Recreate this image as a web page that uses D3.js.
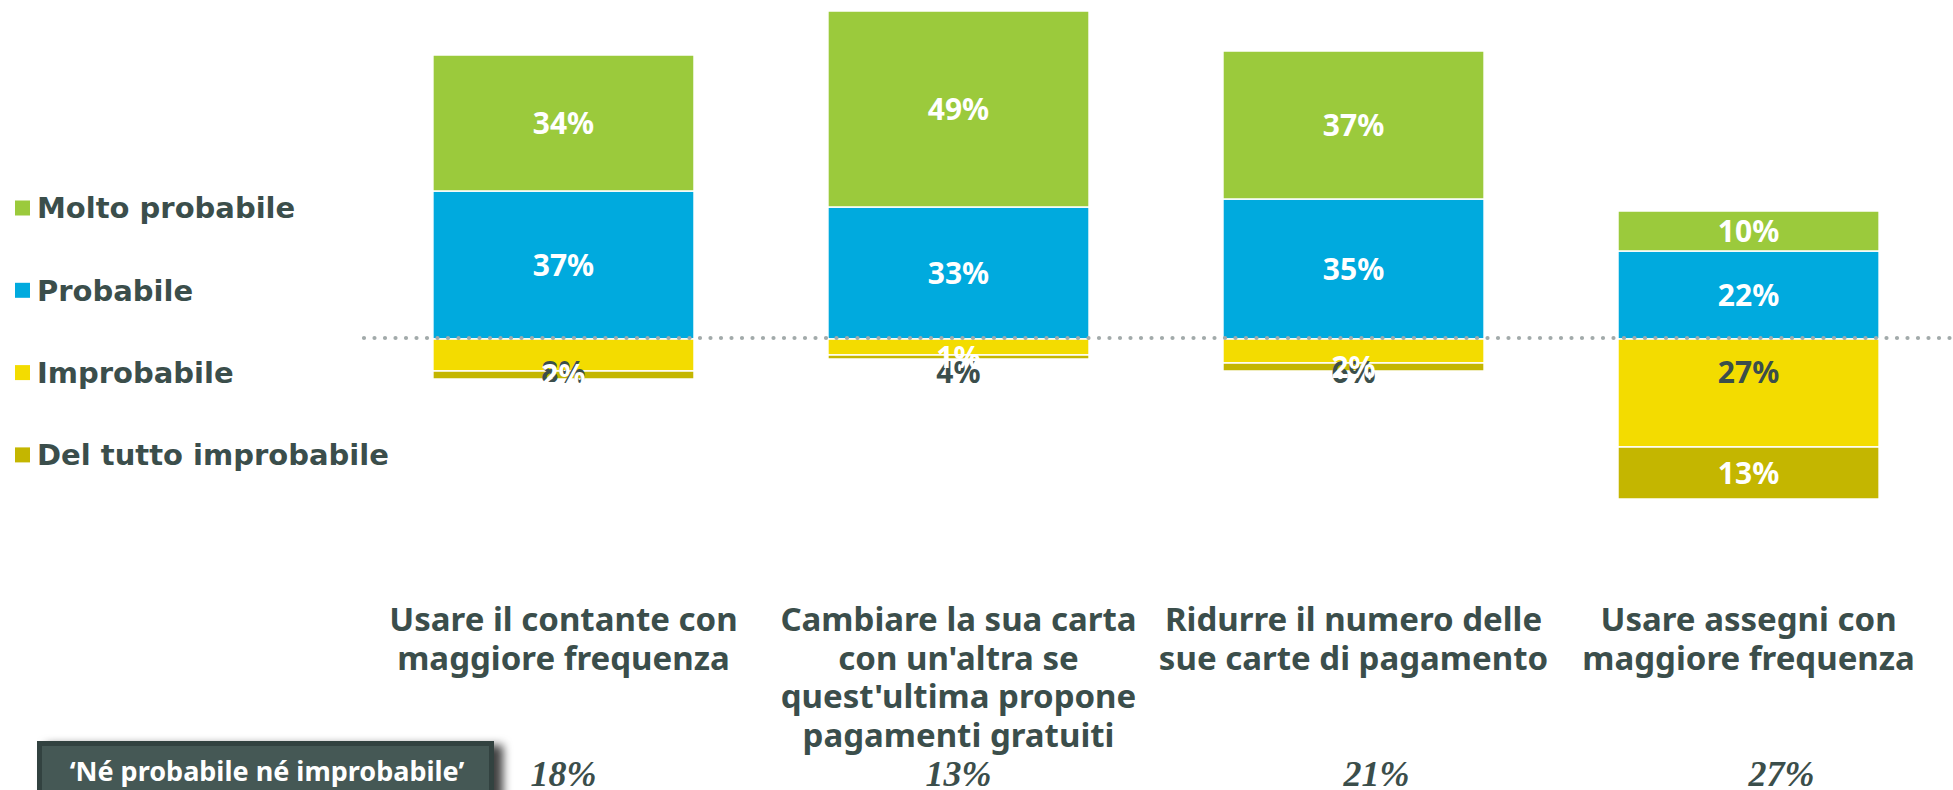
<!DOCTYPE html>
<html>
<head>
<meta charset="utf-8">
<script src="https://cdn.jsdelivr.net/npm/d3@7"></script>
<style>
	html, body { margin: 0; padding: 0; background: #fff; overflow: hidden; }
	svg { display: block; }
</style>
</head>
<body>
<script>
const categories = [
	['Usare il contante con', 'maggiore frequenza'],
	['Cambiare la sua carta', 'con un\'altra se', 'quest\'ultima propone', 'pagamenti gratuiti'],
	['Ridurre il numero delle', 'sue carte di pagamento'],
	['Usare assegni con', 'maggiore frequenza']
]
const seriesNames = ['Molto probabile', 'Probabile', 'Improbabile', 'Del tutto improbabile']
const moltoProbabile = [34, 49, 37, 10]
const probabile = [37, 33, 35, 22]
const improbabile = [8, 4, 6, 27]
const delTuttoImprobabile = [2, 1, 2, 13]
const neutralLabel = '\u2018Né probabile né improbabile\u2019'
const neutral = [18, 13, 21, 27]

const colors = ['#9bca3c', '#00aade', '#f3dc00', '#c4b600']
const dark = '#3b4e4b'

const width = 1953
const height = 790

const svg = d3.select('body').append('svg').attr('width', width).attr('height', height)

const defs = svg.append('defs')
const shadow = defs.append('filter').attr('id', 'shadow').attr('x', '-10%').attr('y', '-50%').attr('width', '130%').attr('height', '200%')
shadow.append('feDropShadow').attr('dx', 9).attr('dy', 4).attr('stdDeviation', 5).attr('flood-color', '#000').attr('flood-opacity', 0.75)

const x = d3.scaleBand().domain(d3.range(categories.length)).range([299, 2013]).padding(0.339)
// 4px per percentage point, zero line at y = 339
const y = d3.scaleLinear().domain([-40, 85]).range([499, -1])

const ids = d3.range(categories.length)
const stackUp = ids.map(i => {
	const a = moltoProbabile[i], b = probabile[i]
	return [
		{ s: 1, i, v: b, y0: 0, y1: b },
		{ s: 0, i, v: a, y0: b, y1: a + b }
	]
}).flat()
const stackDown = ids.map(i => {
	const c = improbabile[i], d = delTuttoImprobabile[i]
	return [
		{ s: 2, i, v: c, y0: 0, y1: -c },
		{ s: 3, i, v: d, y0: -c, y1: -c - d }
	]
}).flat()
const segs = stackUp.concat(stackDown)

const bars = svg.append('g').attr('class', 'bars')
bars.selectAll('rect')
	.data(segs)
	.join('rect')
	.attr('x', d => x(d.i))
	.attr('width', x.bandwidth())
	.attr('y', d => Math.min(y(d.y0), y(d.y1)))
	.attr('height', d => Math.abs(y(d.y0) - y(d.y1)))
	.attr('fill', d => colors[d.s])
	.attr('stroke', '#fff')
	.attr('stroke-width', 1.5)

// zero line, dotted
svg.append('line')
	.attr('x1', 364).attr('x2', width)
	.attr('y1', y(0) - 1).attr('y2', y(0) - 1)
	.attr('stroke', '#a2aaaa')
	.attr('stroke-width', 4.2)
	.attr('stroke-linecap', 'round')
	.attr('stroke-dasharray', '0 10.5')

// value labels: yellow ones sit at a fixed distance below the zero line
const labels = svg.append('g').attr('class', 'labels')
	.attr('font-family', '"Noto Sans", sans-serif')
	.attr('font-weight', 'bold')
	.attr('font-size', 30)
	.attr('text-anchor', 'middle')
labels.selectAll('text')
	.data(segs.filter(d => d.s !== 3).concat(segs.filter(d => d.s === 3)))
	.join('text')
	.attr('x', d => x(d.i) + x.bandwidth() / 2)
	.attr('y', d => d.s === 2 ? y(0) + 33 : (y(d.y0) + y(d.y1)) / 2)
	.attr('dy', '0.36em')
	.attr('fill', d => d.s === 2 ? dark : '#fff')
	.text(d => d.v + '%')

// legend
const legend = svg.append('g').attr('class', 'legend')
	.selectAll('g')
	.data(seriesNames)
	.join('g')
	.attr('transform', (d, i) => 'translate(15,' + (208 + i * 82.3) + ')')
legend.append('rect')
	.attr('x', 0).attr('y', -7.5)
	.attr('width', 15).attr('height', 15)
	.attr('fill', (d, i) => colors[i])
legend.append('text')
	.attr('x', 22)
	.attr('dy', '0.36em')
	.attr('font-family', '"DejaVu Sans", sans-serif')
	.attr('font-weight', 'bold')
	.attr('font-size', 29)
	.attr('fill', dark)
	.text(d => d)

// category names
const cats = svg.append('g').attr('class', 'categories')
	.attr('font-family', '"Noto Sans", sans-serif')
	.attr('font-weight', 'bold')
	.attr('font-size', 33)
	.attr('text-anchor', 'middle')
	.attr('fill', dark)
	.selectAll('text')
	.data(categories)
	.join('text')
	.attr('transform', (d, i) => 'translate(' + (x(i) + x.bandwidth() / 2) + ',619)')
cats.selectAll('tspan')
	.data(d => d)
	.join('tspan')
	.attr('x', 0)
	.attr('y', (d, j) => j * 38.8)
	.attr('dy', '0.36em')
	.text(d => d)

// 'neither' box and values
const box = svg.append('g').attr('class', 'neutral')
box.append('rect')
	.attr('x', 39.5).attr('y', 743.5)
	.attr('width', 452).attr('height', 70)
	.attr('fill', '#455854')
	.attr('stroke', '#33423f')
	.attr('stroke-width', 5)
	.attr('filter', 'url(#shadow)')
box.append('text')
	.attr('x', 267).attr('y', 771)
	.attr('dy', '0.36em')
	.attr('text-anchor', 'middle')
	.attr('font-family', '"Noto Sans", sans-serif')
	.attr('font-weight', 'bold')
	.attr('font-size', 27)
	.attr('fill', '#fff')
	.text(neutralLabel)

const noteShift = [0, 0, 23, 33]
svg.append('g').attr('class', 'neutral-values')
	.selectAll('text')
	.data(neutral)
	.join('text')
	.attr('x', (d, i) => x(i) + x.bandwidth() / 2 + noteShift[i])
	.attr('y', 786)
	.attr('text-anchor', 'middle')
	.attr('font-family', '"Liberation Serif", serif')
	.attr('font-weight', 'bold')
	.attr('font-style', 'italic')
	.attr('font-size', 36)
	.attr('fill', dark)
	.text(d => d + '%')
</script>
</body>
</html>
